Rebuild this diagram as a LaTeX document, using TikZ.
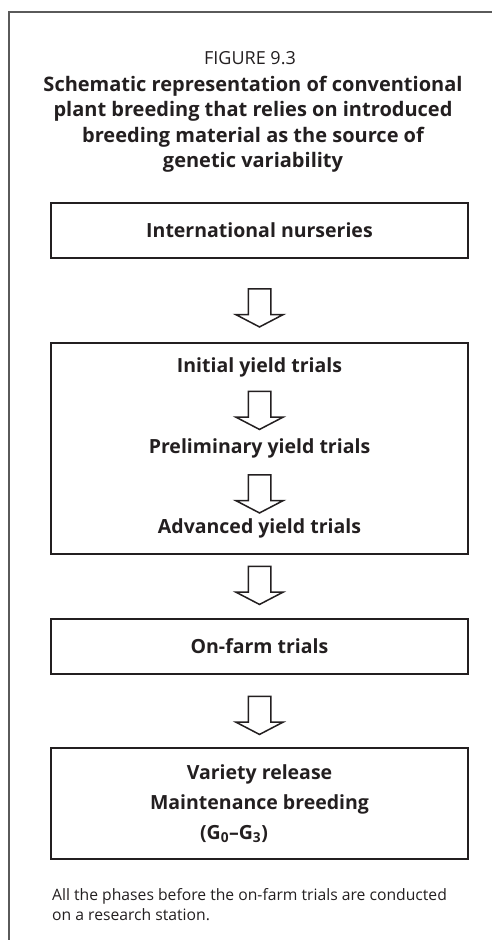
\documentclass[tikz,border=0pt]{standalone}
\usepackage{fontspec}
\setmainfont{Open Sans}
\usetikzlibrary{shapes.arrows}
\definecolor{inkgray}{HTML}{231F20}
\definecolor{framegray}{HTML}{5A5A5A}

\begin{document}
\begin{tikzpicture}[x=1pt, y=-1pt,
  stage/.style={rectangle, draw=inkgray, line width=2.4pt, minimum width=417pt, text=inkgray, font=\fontsize{19.5}{30}\selectfont\bfseries, align=center},
  label/.style={text=inkgray, font=\fontsize{19.5}{24}\selectfont\bfseries},
  hollow/.style={single arrow, draw=inkgray, fill=white, line width=1.5pt, shape border rotate=270, minimum height=38pt, minimum width=46pt, inner sep=10.5pt, single arrow head extend=12.5pt, single arrow tip angle=125}]
  \useasboundingbox (0,0) rectangle (492,940);
  % Frame
  \draw[framegray, line width=1.6pt] (9,940) -- (9,12) -- (492,12);

  % Caption
  \node[text=inkgray, font=\fontsize{18}{20}\selectfont] (fig) at (250, 58) {FIGURE 9.3};
  \node[text=inkgray, align=center, font=\fontsize{20}{25.5}\selectfont\bfseries] (title) at (253, 124)
    {Schematic representation of conventional\\plant breeding that relies on introduced\\breeding material as the source of\\genetic variability};

  % Draw boxes
  \node[stage, minimum height=55pt] (nursery) at (259.5, 230.5) {International nurseries};
  \node[stage, minimum height=211pt] (station) at (259.5, 448.5) {};
  \node[stage, minimum height=55pt] (onfarm) at (259.5, 646.5) {On-farm trials};
  \node[stage, minimum height=111pt] (release) at (259.5, 803.5)
    {Variety release\\Maintenance breeding\\\hspace*{-51pt}(G\textsubscript{0}–G\textsubscript{3})};

  % Stages inside the station box
  \node[label] (initial) at (259.5, 367) {Initial yield trials};
  \node[label] (prelim) at (259.5, 448) {Preliminary yield trials};
  \node[label] (advanced) at (259.5, 528) {Advanced yield trials};

  % Draw arrows
  \node[hollow] (a1) at (259.5, 305) {};
  \node[hollow] (a2) at (259.5, 407.5) {};
  \node[hollow] (a3) at (259.5, 491) {};
  \node[hollow] (a4) at (259.5, 582.5) {};
  \node[hollow] (a5) at (259.5, 712.5) {};

  % Note
  \node[text=inkgray, align=left, anchor=north west, inner sep=0pt, font=\fontsize{15.7}{20}\selectfont] (note) at (52, 888)
    {All the phases before the on-farm trials are conducted\\on a research station.};
\end{tikzpicture}
\end{document}
